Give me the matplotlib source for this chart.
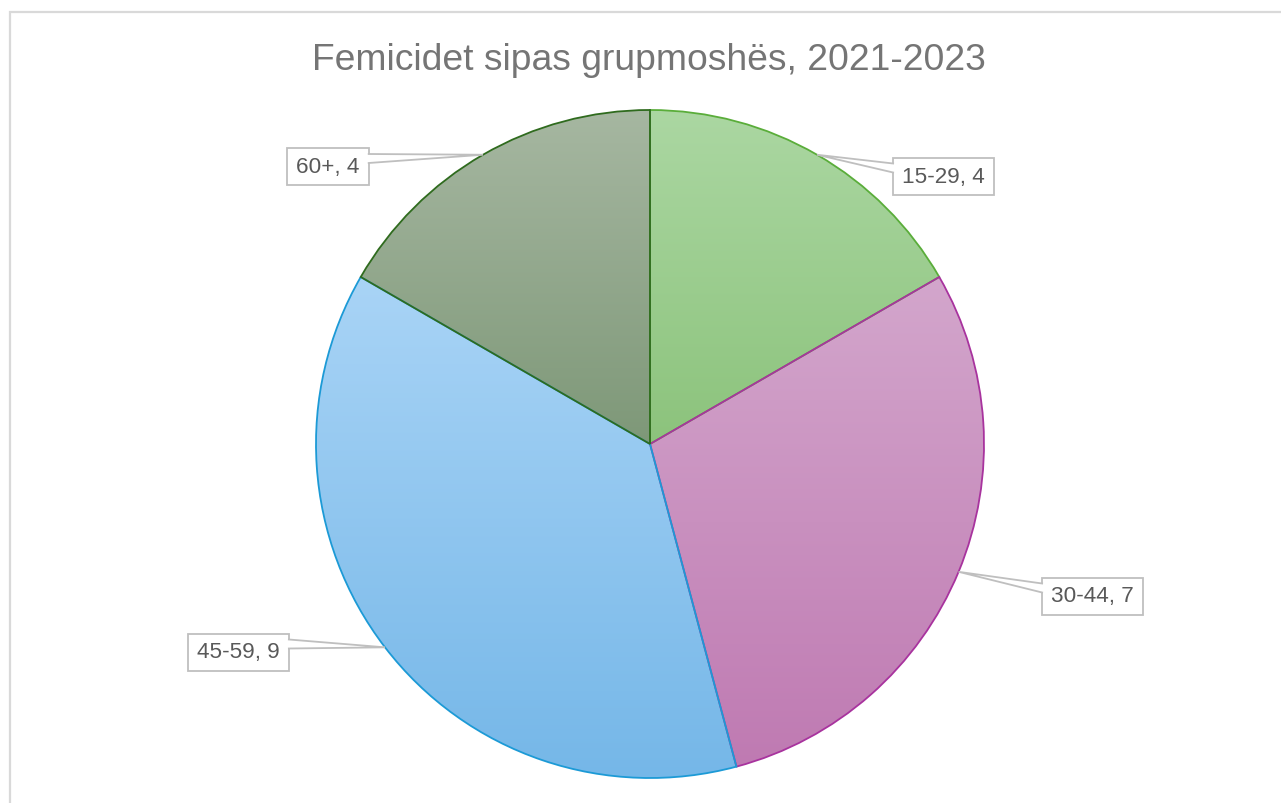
import numpy as np
import matplotlib
matplotlib.use("Agg")
from matplotlib import pyplot as plt
from matplotlib.patches import Rectangle, Polygon
from matplotlib.colors import to_rgb

plt.rcParams['font.family'] = ['Liberation Sans', 'DejaVu Sans']

# data
title = "Femicidet sipas grupmoshës, 2021-2023"
groups = ["15-29", "30-44", "45-59", "60+"]
counts = [4, 7, 9, 4]

# slice styling (gradient top -> bottom, outline)
top_colors = ["#abd7a2", "#d3a6cc", "#a9d4f6", "#a6b7a1"]
bottom_colors = ["#8cc37c", "#bf7ab2", "#75b7e8", "#7e9878"]
edge_colors = ["#5aad3a", "#a8339e", "#1c9ad6", "#2f6b1e"]

# label box centres in pixels (x, y from top)
label_pos = [(943.5, 177), (1092.5, 597), (238.5, 653), (328, 167.5)]

W, H = 1281, 804
cx, cy, R = 650, H - 445, 334

fig = plt.figure(figsize=(W / 100, H / 100), dpi=100)
ax = fig.add_axes([0, 0, 1, 1])

wedges, _ = ax.pie(counts, startangle=90, counterclock=False,
                   center=(cx, cy), radius=R,
                   wedgeprops=dict(facecolor='none', linewidth=1.3))

for w, top, bot, ec in zip(wedges, top_colors, bottom_colors, edge_colors):
    w.set_edgecolor(ec)
    w.set_zorder(3)
    ext = w.get_path().get_extents()
    g = np.linspace(0, 1, 256)[:, None, None]
    arr = np.array(to_rgb(top))[None, None, :] * (1 - g) + np.array(to_rgb(bot))[None, None, :] * g
    im = ax.imshow(arr, extent=(ext.x0, ext.x1, ext.y0, ext.y1), origin='upper',
                   aspect='auto', zorder=2, interpolation='bilinear')
    im.set_clip_path(w)

ax.set_xlim(0, W)
ax.set_ylim(0, H)
ax.axis('off')

# outer frame
ax.add_patch(Rectangle((9.5, -20), W + 20, H - 12.5 + 20, fill=False,
                       ec='#d9d9d9', lw=1.6, zorder=1))

ax.text(649, H - 57, title, ha='center', va='center_baseline', fontsize=26.8, color='#757575')

# data labels with callouts
total = sum(counts)
cum = 0
texts = []
for grp, v, (lx, ly) in zip(groups, counts, label_pos):
    theta = np.deg2rad(90 - (cum + v / 2) / total * 360)
    cum += v
    tip = (cx + R * np.cos(theta), cy + R * np.sin(theta))
    t = ax.text(lx, H - ly, f"{grp}, {v}", ha='center', va='center',
                fontsize=16.2, color='#595959', zorder=8)
    texts.append((t, tip))

fig.canvas.draw()
renderer = fig.canvas.get_renderer()
for t, tip in texts:
    bb = t.get_window_extent(renderer)
    bw = bb.width + 18
    bh = 37
    x0 = (bb.x0 + bb.x1) / 2 - bw / 2
    yc = t.get_position()[1]
    y0 = yc - bh / 2
    ax.add_patch(Rectangle((x0, y0), bw, bh, fc='white', ec='#bfbfbf', lw=1.3, zorder=5))
    ytop = y0 + bh
    ya, yb = ytop - 6, ytop - 15
    if tip[0] > x0 + bw:
        xe, inner = x0 + bw, x0 + bw - 1.5
    else:
        xe, inner = x0, x0 + 1.5
    ax.add_patch(Polygon([tip, (inner, ya), (inner, yb)], closed=True,
                         fc='white', ec='none', zorder=6))
    ax.plot([xe, tip[0], xe], [ya, tip[1], yb], color='#bfbfbf', lw=1.3,
            zorder=7, solid_joinstyle='miter')

fig.savefig("out.png", dpi=100)
